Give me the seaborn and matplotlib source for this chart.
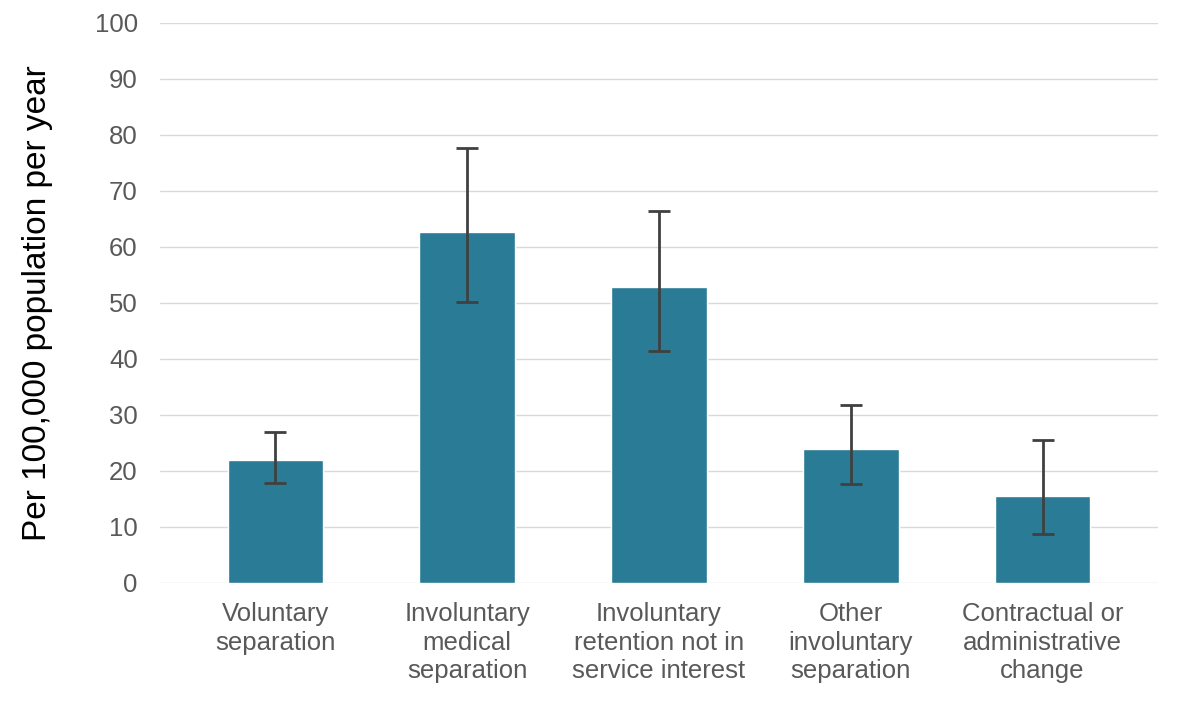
import numpy as np
import pandas as pd
import matplotlib.pyplot as plt
import seaborn as sns

# data
categories = ['Voluntary\nseparation',
              'Involuntary\nmedical\nseparation',
              'Involuntary\nretention not in\nservice interest',
              'Other\ninvoluntary\nseparation',
              'Contractual or\nadministrative\nchange']
rates = [22.0, 62.7, 52.9, 23.9, 15.5]
ci_low = [17.9, 50.1, 41.5, 17.7, 8.8]
ci_high = [27.0, 77.7, 66.5, 31.8, 25.6]

df = pd.DataFrame({'category': categories, 'rate': rates,
                   'low': ci_low, 'high': ci_high})

sns.set_style('white')
plt.rcParams['font.family'] = ['Liberation Sans', 'DejaVu Sans']

fig = plt.figure(figsize=(11.81, 7.08), dpi=100)
ax = fig.add_axes([160 / 1181, 1 - 583 / 708, 998 / 1181, 560 / 708])

sns.barplot(data=df, x='category', y='rate', color='#2A7B96',
            saturation=1, width=0.5, errorbar=None, ax=ax, zorder=2)

# error bars
yerr = np.array([df['rate'] - df['low'], df['high'] - df['rate']])
ax.errorbar(np.arange(len(df)), df['rate'], yerr=yerr, fmt='none',
            ecolor='#404040', elinewidth=2, capsize=8, capthick=2, zorder=3)

ax.set_ylim(0, 100)
ax.set_xlim(-0.602, len(df) - 1 + 0.602)
ax.set_yticks(range(0, 101, 10))
ax.yaxis.grid(True, color='#D9D9D9', linewidth=1)
ax.set_axisbelow(True)
for s in ax.spines.values():
    s.set_visible(False)

ax.tick_params(axis='both', length=0, labelsize=18.5, labelcolor='#595959')
ax.tick_params(axis='y', pad=16)
ax.tick_params(axis='x', pad=14)
for lbl in ax.get_xticklabels():
    lbl.set_linespacing(1.22)
ax.set_xlabel('')
ax.set_ylabel('Per 100,000 population per year', fontsize=24, color='black',
              labelpad=30)

fig.savefig('out.png', dpi=100)
